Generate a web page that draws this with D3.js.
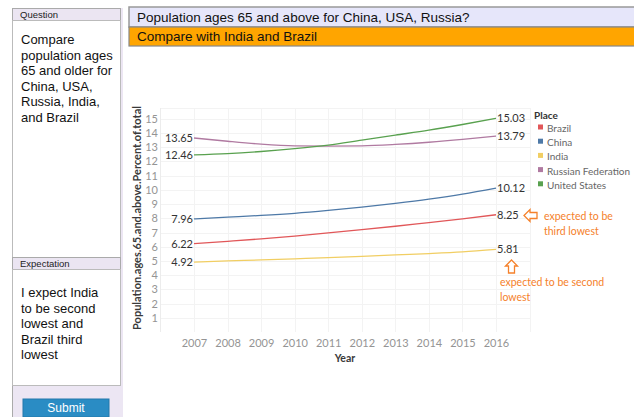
<!DOCTYPE html>
<html>
<head>
<meta charset="utf-8">
<script src="https://cdn.jsdelivr.net/npm/d3@7"></script>
<style>
  body { margin: 0; background: #fff; }
  svg { display: block; }
</style>
</head>
<body>
<div id="chart"></div>
<script>
// data
var years = [2007, 2008, 2009, 2010, 2011, 2012, 2013, 2014, 2015, 2016];
var places = ["Brazil", "China", "India", "Russian Federation", "United States"];
var brazil = [6.22, 6.38, 6.55, 6.75, 6.97, 7.20, 7.44, 7.70, 7.96, 8.25];
var china  = [7.96, 8.08, 8.20, 8.35, 8.55, 8.78, 9.05, 9.35, 9.70, 10.12];
var india  = [4.92, 5.00, 5.07, 5.15, 5.23, 5.32, 5.42, 5.52, 5.64, 5.81];
var russia = [13.65, 13.42, 13.22, 13.10, 13.08, 13.10, 13.20, 13.35, 13.55, 13.79];
var usa    = [12.46, 12.55, 12.70, 12.90, 13.15, 13.50, 13.85, 14.20, 14.60, 15.03];
var yTicks = [1, 2, 3, 4, 5, 6, 7, 8, 9, 10, 11, 12, 13, 14, 15];
var colors = ["#e15759", "#4e79a7", "#f1ce63", "#b07aa1", "#59a14f"];

var seriesData = [brazil, china, india, russia, usa].map(function(v, i) {
  return { name: places[i], color: colors[i], values: v };
});

var W = 634, H = 417;
var svg = d3.select("#chart").append("svg").attr("width", W).attr("height", H);

var sans = "'Liberation Sans', Arial, sans-serif";
var chartFont = "Lato, 'Open Sans', sans-serif";

//Left panel
svg.append("rect").attr("x", 12).attr("y", 8).attr("width", 111).attr("height", 409)
   .style("fill", "#ece6f3");
svg.append("line").attr("x1", 12.5).attr("x2", 12.5).attr("y1", 8).attr("y2", 417)
   .style("stroke", "#aaa");

function panelBox(y0, h, head, lines, lineY) {
  svg.append("rect").attr("x", 12.5).attr("y", y0 + 0.5).attr("width", 108).attr("height", 12)
     .style("fill", "#ebe5f2").style("stroke", "#aaa");
  svg.append("text").attr("x", 20).attr("y", y0 + 10).text(head)
     .style("font-family", sans).style("font-size", "9.5px").style("fill", "#222");
  svg.append("rect").attr("x", 12.5).attr("y", y0 + 12.5).attr("width", 108).attr("height", h)
     .style("fill", "#fff").style("stroke", "#bbb");
  svg.append("g").selectAll("text").data(lines).enter().append("text")
     .attr("x", 21).attr("y", function(d, i) { return lineY + i * 15.5; })
     .text(function(d) { return d; })
     .style("font-family", sans).style("font-size", "13px").style("fill", "#111");
}
panelBox(8, 240, "Question",
  ["Compare", "population ages", "65 and older for", "China, USA,", "Russia, India,", "and Brazil"], 44);
panelBox(257, 116, "Expectation",
  ["I expect India", "to be second", "lowest and", "Brazil third", "lowest"], 297);

svg.append("rect").attr("x", 23).attr("y", 399).attr("width", 86).attr("height", 18)
   .style("fill", "#2a8cc4").style("stroke", "#2379ab");
svg.append("text").attr("x", 66).attr("y", 412).attr("text-anchor", "middle").text("Submit")
   .style("font-family", sans).style("font-size", "12px").style("fill", "#fff");

//Title bars
svg.append("rect").attr("x", 129).attr("y", 7).attr("width", 506).attr("height", 20)
   .style("fill", "#e6e6fa").style("stroke", "#999").style("stroke-width", 1.5);
svg.append("text").attr("x", 137).attr("y", 22).text("Population ages 65 and above for China, USA, Russia?")
   .style("font-family", sans).style("font-size", "13.5px").style("fill", "#111");
svg.append("rect").attr("x", 129).attr("y", 27).attr("width", 506).attr("height", 19)
   .style("fill", "#ffa500").style("stroke", "#888").style("stroke-width", 1.2);
svg.append("text").attr("x", 137).attr("y", 41).text("Compare with India and Brazil")
   .style("font-family", sans).style("font-size", "13.5px").style("fill", "#111");

//Scales
var plotL = 160, plotR = 530, plotT = 108, plotB = 332;
var x = d3.scalePoint().domain(years).range([194, 496]);
var y = d3.scaleLinear().domain([0, 15.76]).range([plotB, plotT]);

//Gridlines
var grid = svg.append("g");
grid.selectAll("line.h").data(yTicks.concat([15.76])).enter().append("line")
    .attr("x1", plotL).attr("x2", plotR)
    .attr("y1", function(d) { return Math.round(y(d)) + 0.5; })
    .attr("y2", function(d) { return Math.round(y(d)) + 0.5; })
    .style("stroke", "#f3f3f3");
grid.selectAll("line.v").data(years).enter().append("line")
    .attr("y1", plotT).attr("y2", plotB)
    .attr("x1", function(d) { return Math.round(x(d)) + 0.5; })
    .attr("x2", function(d) { return Math.round(x(d)) + 0.5; })
    .style("stroke", "#f3f3f3");
grid.append("line").attr("x1", plotL + 0.5).attr("x2", plotL + 0.5).attr("y1", plotT).attr("y2", plotB)
    .style("stroke", "#ececec");
grid.append("line").attr("x1", plotR + 0.5).attr("x2", plotR + 0.5).attr("y1", plotT).attr("y2", plotB)
    .style("stroke", "#f3f3f3");

//Axes
var yAxis = svg.append("g").attr("transform", "translate(" + (plotL - 2) + ",0)")
    .call(d3.axisLeft(y).tickValues(yTicks).tickSize(0).tickPadding(0));
var xAxis = svg.append("g").attr("transform", "translate(0," + (plotB + 2) + ")")
    .call(d3.axisBottom(x).tickSize(0).tickPadding(5));
[yAxis, xAxis].forEach(function(a) {
  a.select(".domain").remove();
  a.selectAll("text").style("font-family", chartFont).style("font-size", "11px").style("fill", "#949494");
});

svg.append("text").attr("transform", "translate(141,218) rotate(-90)").attr("text-anchor", "middle")
   .text("Population.ages.65.and.above.Percent.of.total")
   .style("font-family", chartFont).style("font-size", "11px").style("font-weight", "bold").style("fill", "#3a3a3a");
svg.append("text").attr("x", 345).attr("y", 362).attr("text-anchor", "middle").text("Year")
   .style("font-family", chartFont).style("font-size", "10.5px").style("font-weight", "bold").style("fill", "#3a3a3a");

//Lines
var line = d3.line()
    .x(function(d, i) { return x(years[i]); })
    .y(function(d) { return y(d); })
    .curve(d3.curveMonotoneX);

svg.append("g").selectAll("path").data(seriesData).enter().append("path")
   .attr("d", function(d) { return line(d.values); })
   .style("fill", "none").style("stroke", function(d) { return d.color; }).style("stroke-width", 1.3);

//End labels
var labels = svg.append("g").style("font-family", chartFont).style("font-size", "11px").style("fill", "#333");
labels.selectAll("text.s").data(seriesData).enter().append("text")
   .attr("x", x(years[0]) - 1).attr("y", function(d) { return y(d.values[0]) + 4; })
   .attr("text-anchor", "end").text(function(d) { return d.values[0].toFixed(2); });
labels.selectAll("text.e").data(seriesData).enter().append("text")
   .attr("x", x(years[years.length - 1]) + 1).attr("y", function(d) { return y(d.values[d.values.length - 1]) + 4; })
   .text(function(d) { return d.values[d.values.length - 1].toFixed(2); });

//Legend
var legend = svg.append("g").style("font-family", chartFont);
legend.append("text").attr("x", 534).attr("y", 119).text("Place")
   .style("font-size", "10px").style("font-weight", "bold").style("fill", "#333");
var items = legend.selectAll("g.item").data(seriesData).enter().append("g")
   .attr("transform", function(d, i) { return "translate(538," + (128 + i * 14.2) + ")"; });
items.append("rect").attr("x", 0).attr("y", -3.5).attr("width", 5).attr("height", 5)
   .style("fill", function(d) { return d.color; });
items.append("text").attr("x", 9).attr("y", 4).text(function(d) { return d.name; })
   .style("font-size", "10px").style("fill", "#666");

//Annotations
var orange = "#f5812b";
var ann = svg.append("g").style("font-family", chartFont).style("font-size", "10.5px").style("fill", orange);
ann.append("text").attr("x", 544).attr("y", 220).text("expected to be");
ann.append("text").attr("x", 544).attr("y", 235).text("third lowest");
ann.append("text").attr("x", 500).attr("y", 286).text("expected to be second");
ann.append("text").attr("x", 500).attr("y", 301).text("lowest");
// left arrow
ann.append("path")
   .attr("d", "M524,215.5 L530,209.5 L530,212.5 L537,212.5 L537,218.5 L530,218.5 L530,221.5 Z")
   .style("fill", "#fff").style("stroke", orange).style("stroke-width", 1.3);
// up arrow
ann.append("path")
   .attr("d", "M511.5,260 L517.5,266 L514.5,266 L514.5,273 L508.5,273 L508.5,266 L505.5,266 Z")
   .style("fill", "#fff").style("stroke", orange).style("stroke-width", 1.3);
</script>
</body>
</html>
